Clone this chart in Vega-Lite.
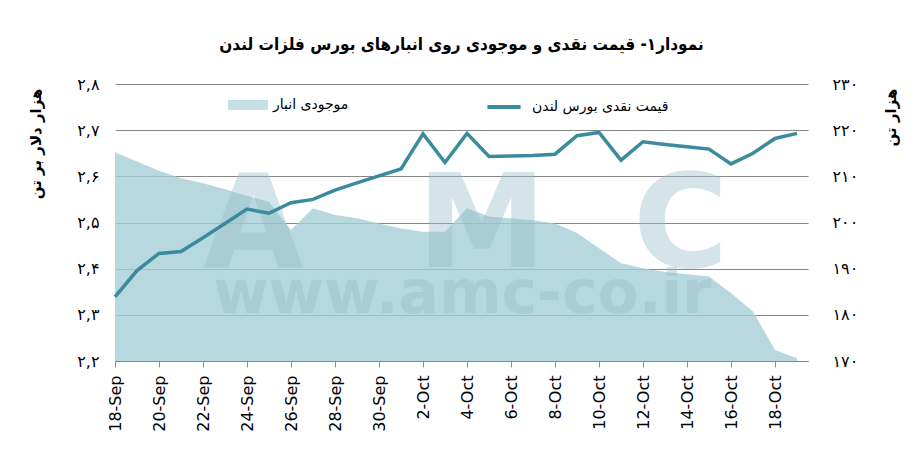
{
  "$schema": "https://vega.github.io/schema/vega-lite/v6.json",
  "width": 693,
  "height": 277,
  "autosize": {"type": "none"},
  "padding": {"left": 115, "top": 84, "right": 109, "bottom": 99},
  "background": "white",
  "title": {
    "text": "نمودار۱- قیمت نقدی و موجودی روی انبارهای بورس فلزات لندن",
    "font": "DejaVu Sans Condensed",
    "fontSize": 17,
    "fontWeight": "bold",
    "color": "#000",
    "anchor": "middle",
    "offset": 22
  },
  "config": {
    "view": {"stroke": null}
  },
  "data": {
    "values": [
      {"date": "2017-09-18", "price": 2.339, "stock": 215.2},
      {"date": "2017-09-19", "price": 2.396, "stock": 213.2},
      {"date": "2017-09-20", "price": 2.433, "stock": 211.2},
      {"date": "2017-09-21", "price": 2.437, "stock": 209.6},
      {"date": "2017-09-22", "price": 2.467, "stock": 208.5},
      {"date": "2017-09-23", "price": 2.498, "stock": 207.2},
      {"date": "2017-09-24", "price": 2.529, "stock": 205.8},
      {"date": "2017-09-25", "price": 2.52, "stock": 204.5},
      {"date": "2017-09-26", "price": 2.543, "stock": 198.4},
      {"date": "2017-09-27", "price": 2.55, "stock": 203.1},
      {"date": "2017-09-28", "price": 2.57, "stock": 201.6},
      {"date": "2017-09-29", "price": 2.586, "stock": 200.9},
      {"date": "2017-09-30", "price": 2.601, "stock": 199.8},
      {"date": "2017-10-01", "price": 2.616, "stock": 198.7},
      {"date": "2017-10-02", "price": 2.692, "stock": 198.0},
      {"date": "2017-10-03", "price": 2.63, "stock": 198.0},
      {"date": "2017-10-04", "price": 2.693, "stock": 203.1},
      {"date": "2017-10-05", "price": 2.643, "stock": 201.3},
      {"date": "2017-10-06", "price": 2.644, "stock": 200.9},
      {"date": "2017-10-07", "price": 2.645, "stock": 200.5},
      {"date": "2017-10-08", "price": 2.648, "stock": 199.8},
      {"date": "2017-10-09", "price": 2.688, "stock": 197.7},
      {"date": "2017-10-10", "price": 2.695, "stock": 194.4},
      {"date": "2017-10-11", "price": 2.635, "stock": 191.2},
      {"date": "2017-10-12", "price": 2.675, "stock": 190.1},
      {"date": "2017-10-13", "price": 2.669, "stock": 189.3},
      {"date": "2017-10-14", "price": 2.664, "stock": 188.8},
      {"date": "2017-10-15", "price": 2.659, "stock": 188.3},
      {"date": "2017-10-16", "price": 2.627, "stock": 184.7},
      {"date": "2017-10-17", "price": 2.65, "stock": 180.7},
      {"date": "2017-10-18", "price": 2.682, "stock": 172.4},
      {"date": "2017-10-19", "price": 2.693, "stock": 170.6}
    ]
  },
  "layer": [
    {
      "mark": {"type": "area", "opacity": 0.8},
      "encoding": {
        "x": {
          "field": "date",
          "type": "temporal",
          "scale": {
            "type": "utc",
            "domain": [
              {"year": 2017, "month": 9, "date": 18, "utc": true},
              {"year": 2017, "month": 10, "date": 19, "hours": 12, "utc": true}
            ]
          },
          "axis": {
            "values": [
              {"year": 2017, "month": 9, "date": 18, "utc": true},
              {"year": 2017, "month": 9, "date": 20, "utc": true},
              {"year": 2017, "month": 9, "date": 22, "utc": true},
              {"year": 2017, "month": 9, "date": 24, "utc": true},
              {"year": 2017, "month": 9, "date": 26, "utc": true},
              {"year": 2017, "month": 9, "date": 28, "utc": true},
              {"year": 2017, "month": 9, "date": 30, "utc": true},
              {"year": 2017, "month": 10, "date": 2, "utc": true},
              {"year": 2017, "month": 10, "date": 4, "utc": true},
              {"year": 2017, "month": 10, "date": 6, "utc": true},
              {"year": 2017, "month": 10, "date": 8, "utc": true},
              {"year": 2017, "month": 10, "date": 10, "utc": true},
              {"year": 2017, "month": 10, "date": 12, "utc": true},
              {"year": 2017, "month": 10, "date": 14, "utc": true},
              {"year": 2017, "month": 10, "date": 16, "utc": true},
              {"year": 2017, "month": 10, "date": 18, "utc": true}
            ],
            "labelExpr": "utcFormat(datum.value, '%-d-%b')",
            "labelAngle": 270,
            "labelFont": "DejaVu Sans",
            "labelFontSize": 16,
            "labelColor": "#000",
            "labelPadding": 8,
            "tickColor": "#888",
            "tickSize": 6,
            "domainColor": "#888",
            "grid": false,
            "title": null
          }
        },
        "y": {
          "field": "stock",
          "type": "quantitative",
          "scale": {"domain": [170, 230], "zero": false, "nice": false},
          "axis": {
            "orient": "right",
            "values": [170, 180, 190, 200, 210, 220, 230],
            "grid": false,
            "domain": false,
            "ticks": false,
            "labelPadding": 24,
            "labelFont": "DejaVu Sans",
            "labelFontSize": 16,
            "labelColor": "#000",
            "labelExpr": "replace(replace(replace(replace(replace(replace(replace(datum.label,regexp('0','g'),'۰'),regexp('1','g'),'۱'),regexp('2','g'),'۲'),regexp('3','g'),'۳'),regexp('7','g'),'۷'),regexp('8','g'),'۸'),regexp('9','g'),'۹')",
            "title": "هزار تن",
            "titleFont": "DejaVu Sans",
            "titleFontSize": 15,
            "titleFontWeight": "bold",
            "titleColor": "#000",
            "titleAngle": 270,
            "titleAlign": "right",
            "titleBaseline": "middle",
            "titleX": 82,
            "titleY": 4
          }
        },
        "y2": {"datum": 170},
        "fill": {
          "datum": "موجودی انبار",
          "type": "nominal",
          "scale": {"range": ["#a6ced7"]},
          "legend": {
            "orient": "none",
            "legendX": 113,
            "legendY": 1,
            "title": null,
            "padding": 0,
            "symbolType": "M-1,-0.25L1,-0.25L1,0.25L-1,0.25Z",
            "symbolSize": 1600,
            "symbolOpacity": 0.65,
            "symbolStrokeWidth": 0,
            "labelFont": "DejaVu Sans",
            "labelFontSize": 14,
            "labelColor": "#000",
            "labelOffset": 5
          }
        }
      }
    },
    {
      "layer": [
        {
          "data": {"values": [{}]},
          "mark": {"type": "text", "font": "DejaVu Sans", "fontWeight": "bold", "fontSize": 130, "fill": "#96bec8", "opacity": 0.4, "align": "center", "baseline": "alphabetic"},
          "encoding": {
            "x": {"datum": {"year": 2017, "month": 9, "date": 24, "hours": 7, "utc": true}, "type": "temporal", "axis": {"title": null}},
            "y": {"datum": 2.404, "type": "quantitative"},
            "text": {"value": "A"}
          }
        },
        {
          "data": {"values": [{}]},
          "mark": {"type": "text", "font": "DejaVu Sans", "fontWeight": "bold", "fontSize": 130, "fill": "#96bec8", "opacity": 0.4, "align": "center", "baseline": "alphabetic"},
          "encoding": {
            "x": {"datum": {"year": 2017, "month": 10, "date": 4, "hours": 16, "utc": true}, "type": "temporal", "axis": {"title": null}},
            "y": {"datum": 2.404, "type": "quantitative"},
            "text": {"value": "M"}
          }
        },
        {
          "data": {"values": [{}]},
          "mark": {"type": "text", "font": "DejaVu Sans", "fontWeight": "bold", "fontSize": 130, "fill": "#96bec8", "opacity": 0.4, "align": "center", "baseline": "alphabetic"},
          "encoding": {
            "x": {"datum": {"year": 2017, "month": 10, "date": 13, "hours": 17, "utc": true}, "type": "temporal", "axis": {"title": null}},
            "y": {"datum": 2.404, "type": "quantitative"},
            "text": {"value": "C"}
          }
        },
        {
          "data": {"values": [{}]},
          "mark": {"type": "text", "font": "DejaVu Sans", "fontWeight": "bold", "fontSize": 60, "fill": "#96bec8", "opacity": 0.4, "align": "center", "baseline": "alphabetic"},
          "encoding": {
            "x": {"datum": {"year": 2017, "month": 10, "date": 3, "hours": 19, "utc": true}, "type": "temporal", "axis": {"title": null}},
            "y": {"datum": 2.305, "type": "quantitative"},
            "text": {"value": "www.amc-co.ir"}
          }
        },
        {
          "mark": {"type": "line", "strokeWidth": 3.5},
          "encoding": {
            "x": {"field": "date", "type": "temporal", "axis": {"title": null}},
            "y": {
              "field": "price",
              "type": "quantitative",
              "scale": {"domain": [2.2, 2.8], "zero": false, "nice": false},
              "axis": {
                "orient": "left",
                "values": [2.2, 2.3, 2.4, 2.5, 2.6, 2.7, 2.8],
                "grid": true,
                "gridColor": "#888",
                "gridWidth": 1,
                "domain": false,
                "ticks": false,
                "labelPadding": 16,
                "labelFont": "DejaVu Sans",
                "labelFontSize": 16,
                "labelColor": "#000",
                "labelExpr": "replace(replace(replace(replace(replace(replace(replace(replace(format(datum.value,'.1f'),'.',','),regexp('2','g'),'۲'),'3','۳'),'4','۴'),'5','۵'),'6','۶'),'7','۷'),'8','۸')",
                "title": "هزار دلار بر تن",
                "titleFont": "DejaVu Sans",
                "titleFontSize": 15,
                "titleFontWeight": "bold",
                "titleColor": "#000",
                "titleAngle": 270,
                "titleAlign": "right",
                "titleBaseline": "middle",
                "titleX": -80,
                "titleY": 4
              }
            },
            "stroke": {
              "datum": "قیمت نقدی بورس لندن",
              "type": "nominal",
              "scale": {"range": ["#3a8c9d"]},
              "legend": {
                "orient": "none",
                "legendX": 370,
                "legendY": 4,
                "title": null,
                "padding": 0,
                "symbolType": "stroke",
                "symbolSize": 1100,
                "symbolStrokeWidth": 4,
                "labelFont": "DejaVu Sans",
                "labelFontSize": 14,
                "labelColor": "#000",
                "labelOffset": 9
              }
            }
          }
        }
      ]
    }
  ],
  "resolve": {"scale": {"y": "independent"}}
}
